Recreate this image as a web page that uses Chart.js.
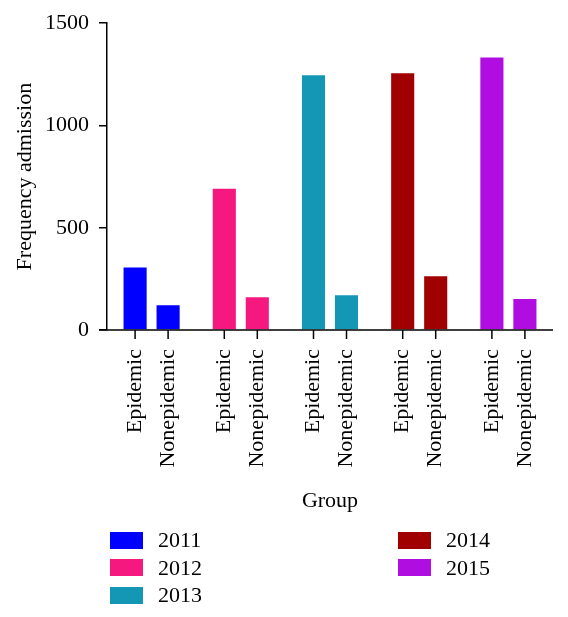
<!DOCTYPE html>
<html>
<head>
<meta charset="utf-8">
<script src="https://cdn.jsdelivr.net/npm/chart.js@4/dist/chart.umd.min.js"></script>
<style>
  html, body { margin: 0; padding: 0; background: #fff; }
  #wrap { position: relative; width: 568px; height: 617px; }
  #legend { position: absolute; left: 110px; top: 526px; width: 440px; height: 90px;
            font: 22px "Liberation Serif", serif; color: #000; }
  .item { position: absolute; display: flex; align-items: center; height: 28px; }
  .box { width: 33px; height: 17px; margin-right: 15px; }
</style>
</head>
<body>
<div id="wrap">
  <canvas id="admissionChart" width="568" height="617"></canvas>
  <div id="legend"></div>
</div>
<script>
/* global Chart:false */

// values
const years = ["2011", "2012", "2013", "2014", "2015"];
const yearColors = ["#0000ff", "#f5187f", "#1497b4", "#a00000", "#b00de0"];
const groups = ["Epidemic", "Nonepidemic"];
const epidemic = [305, 690, 1245, 1255, 1332];
const nonepidemic = [121, 160, 170, 263, 152];
const yTicks = [0, 500, 1000, 1500];

const serif = '"Liberation Serif", "Times New Roman", serif';
const fontSize = 22;

// tick marks + rotated labels under every bar, and the "Group" title
const groupTicks = {
  id: "groupTicks",
  afterDraw: function (chart) {
    const ctx = chart.ctx;
    const area = chart.chartArea;
    ctx.save();
    ctx.strokeStyle = "#000";
    ctx.lineWidth = 1.5;
    // x axis line runs a little past the y axis, like the original
    ctx.beginPath();
    ctx.moveTo(area.left - 8, area.bottom);
    ctx.lineTo(area.right, area.bottom);
    ctx.stroke();

    ctx.font = fontSize + "px " + serif;
    ctx.fillStyle = "#000";
    ctx.textAlign = "right";
    ctx.textBaseline = "middle";
    chart.data.datasets.forEach(function (ds, d) {
      chart.getDatasetMeta(d).data.forEach(function (bar) {
        ctx.beginPath();
        ctx.moveTo(bar.x, area.bottom);
        ctx.lineTo(bar.x, area.bottom + 9);
        ctx.stroke();
        ctx.save();
        ctx.translate(bar.x, area.bottom + 19);
        ctx.rotate(-Math.PI / 2);
        ctx.fillText(ds.label, 0, 0);
        ctx.restore();
      });
    });

    ctx.textAlign = "center";
    ctx.fillText("Group", (area.left + area.right) / 2, area.bottom + 171);
    ctx.restore();
  },
};

const ctx = document.getElementById("admissionChart").getContext("2d");
new Chart(ctx, {
  type: "bar",
  data: {
    labels: years,
    datasets: [
      { label: groups[0], data: epidemic, backgroundColor: yearColors },
      { label: groups[1], data: nonepidemic, backgroundColor: yearColors },
    ],
  },
  options: {
    responsive: false,
    animation: false,
    layout: { padding: { top: 21, right: 15, bottom: 0, left: 0 } },
    categoryPercentage: 0.74,
    barPercentage: 0.7,
    plugins: {
      legend: { display: false },
      tooltip: { enabled: false },
    },
    scales: {
      x: {
        type: "category",
        ticks: { display: false },
        grid: { display: false },
        border: { display: false },
        afterFit: function (scale) {
          scale.height = 287;
        },
      },
      y: {
        min: 0,
        max: 1500,
        afterFit: function (scale) {
          scale.width = 107;
        },
        afterBuildTicks: function (scale) {
          scale.ticks = yTicks.map(function (v) {
            return { value: v };
          });
        },
        ticks: {
          color: "#000",
          padding: 10,
          font: { family: serif, size: fontSize },
          callback: function (value) {
            return String(value);
          },
        },
        grid: {
          drawOnChartArea: false,
          drawTicks: true,
          tickLength: 8,
          color: "#000",
          lineWidth: 1.5,
        },
        border: { color: "#000", width: 1.5 },
        title: {
          display: true,
          text: "Frequency admission",
          color: "#000",
          padding: { top: 12, bottom: 0 },
          font: { family: serif, size: fontSize },
        },
      },
    },
  },
  plugins: [groupTicks],
});

// two-column legend: one swatch per year
const legend = document.getElementById("legend");
years.forEach(function (year, i) {
  const item = document.createElement("div");
  item.className = "item";
  item.style.left = (i < 3 ? 0 : 288) + "px";
  item.style.top = (i < 3 ? i : i - 3) * 27.5 + "px";
  const box = document.createElement("span");
  box.className = "box";
  box.style.background = yearColors[i];
  const text = document.createElement("span");
  text.textContent = year;
  item.appendChild(box);
  item.appendChild(text);
  legend.appendChild(item);
});
</script>
</body>
</html>
